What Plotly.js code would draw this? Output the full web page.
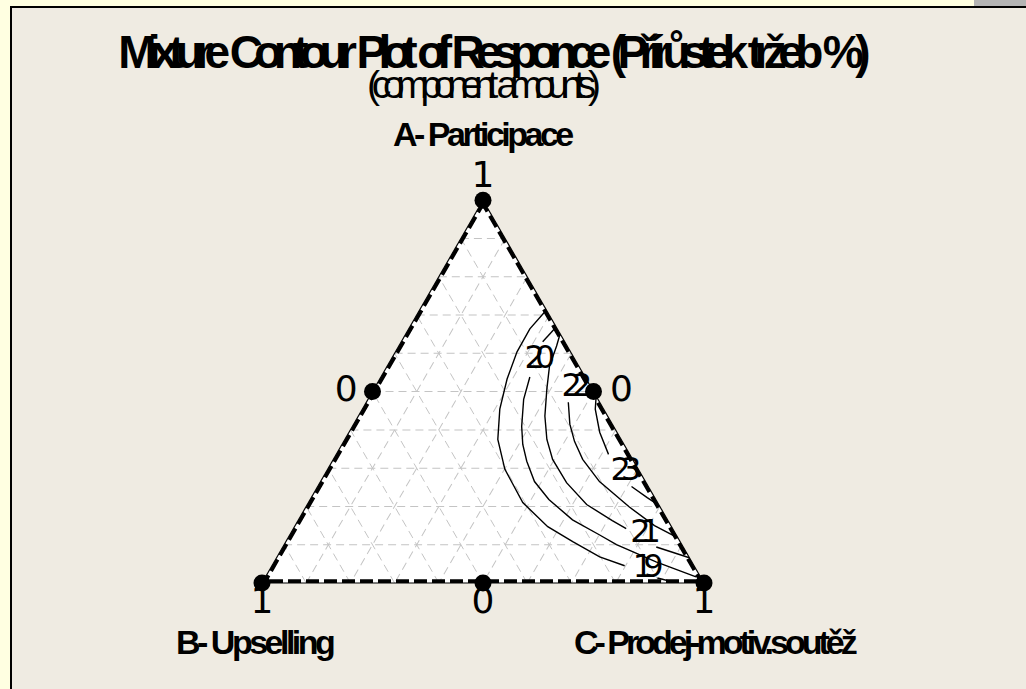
<!DOCTYPE html>
<html>
<head>
<meta charset="utf-8">
<script src="https://cdn.plot.ly/plotly-3.0.1.min.js"></script>
<style>
  body { margin: 0; background: #FFFFE1; overflow: hidden; }
  #strip { position: absolute; left: 974px; top: 0; width: 52px; height: 6px; background: #B4B4B4; }
  #panel { position: absolute; left: 10px; top: 6px; width: 1014px; height: 683px;
           background: #EFEBE2; border-left: 2px solid #000; border-top: 2px solid #000; }
  #chart { position: absolute; left: 0; top: 0; width: 1026px; height: 689px; }
</style>
</head>
<body>
<div id="strip"></div>
<div id="panel"></div>
<div id="chart"></div>
<script>
// component amounts (A, C) along each contour; B = 1 - A - C, null = gap for the label
const c19A = [0.713, 0.664, 0.604, 0.533, 0.454, 0.375, 0.297, 0.210, 0.147, 0.108, 0.068, 0.045, null, 0.013, 0.000];
const c19C = [0.287, 0.274, 0.275, 0.288, 0.311, 0.346, 0.401, 0.485, 0.573, 0.649, 0.730, 0.798, null, 0.888, 0.939];
const c20A = [0.669, 0.630, null, 0.538, 0.480, 0.409, 0.362, 0.318, 0.265, 0.218, 0.165, 0.126, 0.100, 0.055, 0.016];
const c20C = [0.331, 0.320, null, 0.337, 0.352, 0.383, 0.409, 0.440, 0.484, 0.540, 0.620, 0.700, 0.752, 0.864, 0.974];
const c21A = [0.651, 0.619, 0.567, 0.507, 0.436, 0.375, 0.323, 0.262, 0.205, 0.163, 0.142, null, 0.094, 0.066];
const c21C = [0.349, 0.357, 0.367, 0.391, 0.422, 0.457, 0.496, 0.558, 0.632, 0.711, 0.753, null, 0.845, 0.934];
const c22A = [0.570, null, 0.472, 0.415, 0.370, 0.323, 0.265, 0.199, 0.150, 0.118];
const c22C = [0.430, null, 0.457, 0.489, 0.522, 0.564, 0.631, 0.731, 0.813, 0.882];
const c23A = [0.488, 0.454, 0.394, 0.336, null, 0.252, 0.223, 0.202];
const c23C = [0.512, 0.527, 0.567, 0.616, null, 0.710, 0.760, 0.798];

// contour labels
const labelText = ['19', '20', '21', '22', '23'];
const labelA = [0.037, 0.583, 0.127, 0.5105, 0.290];
const labelC = [0.844, 0.326, 0.793, 0.446, 0.667];

// vertices and edge midpoints with their Minitab style labels
const dotA = [1, 0, 0, 0.5, 0.5, 0];
const dotB = [0, 1, 0, 0.5, 0, 0.5];
const dotC = [0, 0, 1, 0, 0.5, 0.5];
const dotText = ['1', '1', '1', '0', '0', '0'];

// outline of the simplex
const edgeA = [1, 0, 0, 1];
const edgeB = [0, 1, 0, 0];
const edgeC = [0, 0, 1, 0];

const chartTitle = 'Mixture Contour Plot of Responce (Přírůstek tržeb %)';
const subTitle = '(component amounts)';
const compNames = ['A- Participace', 'B- Upselling', 'C- Prodej-motiv.soutěž'];

// Minitab squeezes its text so the glyphs overlap
const squeeze = (s, px, word) =>
  `<span style="letter-spacing:${px}px;word-spacing:${word || 0}px">${s}</span>`;

const contour = (a, c) => ({
  type: 'scatterternary',
  mode: 'lines',
  a: a,
  c: c,
  line: { color: '#000', width: 1.4 },
  connectgaps: false,
  hoverinfo: 'skip',
  showlegend: false
});

const traces = [
  {
    // lines get clipped to the simplex, so only the inner half of this shows
    type: 'scatterternary',
    mode: 'lines',
    a: edgeA, b: edgeB, c: edgeC,
    line: { color: '#000', width: 7.5, dash: '13px,5px' },
    cliponaxis: false,
    hoverinfo: 'skip',
    showlegend: false
  },
  contour(c19A, c19C),
  contour(c20A, c20C),
  contour(c21A, c21C),
  contour(c22A, c22C),
  contour(c23A, c23C),
  {
    type: 'scatterternary',
    mode: 'text',
    a: labelA,
    c: labelC,
    text: labelText,
    texttemplate: squeeze('%{text}', -10),
    textposition: 'middle center',
    textfont: { family: 'DejaVu Sans', size: 32, color: '#000' },
    cliponaxis: false,
    hoverinfo: 'skip',
    showlegend: false
  },
  {
    type: 'scatterternary',
    mode: 'markers',
    a: dotA, b: dotB, c: dotC,
    marker: { color: '#000', size: 17, line: { width: 0 } },
    cliponaxis: false,
    hoverinfo: 'skip',
    showlegend: false
  },
  {
    // invisible markers only set how far each label sits from its dot
    type: 'scatterternary',
    mode: 'markers+text',
    a: dotA, b: dotB, c: dotC,
    text: dotText,
    textposition: ['top center', 'bottom center', 'bottom center', 'middle left', 'middle right', 'bottom center'],
    textfont: { family: 'DejaVu Sans', size: 36, color: '#000' },
    marker: { color: 'rgba(0,0,0,0)', size: [5, 4, 4, 22, 25, 4], line: { width: 0 } },
    cliponaxis: false,
    hoverinfo: 'skip',
    showlegend: false
  }
];

const axisStyle = {
  showticklabels: false,
  ticks: '',
  dtick: 0.1,
  showgrid: true,
  gridcolor: '#C4C4C4',
  gridwidth: 1,
  griddash: '8px,5px',
  showline: true,
  linecolor: '#000',
  linewidth: 1.2,
  title: { text: '' }
};

const titleFont = { family: 'Liberation Sans, Arial, sans-serif', size: 34, color: '#000', weight: 'bold' };

const layout = {
  width: 1026,
  height: 689,
  margin: { l: 0, r: 0, t: 0, b: 0 },
  paper_bgcolor: 'rgba(0,0,0,0)',
  showlegend: false,
  hovermode: false,
  title: {
    text: squeeze(chartTitle, -8.6, 4),
    font: { family: 'Liberation Sans, Arial, sans-serif', size: 46, color: '#000', weight: 'bold' },
    x: 0.4776, xref: 'container', xanchor: 'center',
    y: 0.925, yref: 'container', yanchor: 'middle'
  },
  ternary: {
    sum: 1,
    bgcolor: '#FFFFFF',
    domain: { x: [0.25536, 0.68616], y: [0.13164, 0.73164] },
    aaxis: axisStyle,
    baxis: axisStyle,
    caxis: axisStyle
  },
  annotations: [
    {
      text: squeeze(subTitle, -8.3, 4),
      font: { family: 'Liberation Sans, Arial, sans-serif', size: 39, color: '#000' },
      xref: 'paper', yref: 'paper', x: 0.4708, y: 0.878,
      xanchor: 'center', yanchor: 'middle', showarrow: false
    },
    {
      text: squeeze(compNames[0], -3.5), font: titleFont,
      xref: 'paper', yref: 'paper', x: 0.4708, y: 0.806,
      xanchor: 'center', yanchor: 'middle', showarrow: false
    },
    {
      text: squeeze(compNames[1], -3.5), font: titleFont,
      xref: 'paper', yref: 'paper', x: 0.2485, y: 0.0682,
      xanchor: 'center', yanchor: 'middle', showarrow: false
    },
    {
      text: squeeze(compNames[2], -4), font: titleFont,
      xref: 'paper', yref: 'paper', x: 0.6969, y: 0.0682,
      xanchor: 'center', yanchor: 'middle', showarrow: false
    }
  ]
};

Plotly.newPlot('chart', traces, layout, { displayModeBar: false, staticPlot: true });
</script>
</body>
</html>
